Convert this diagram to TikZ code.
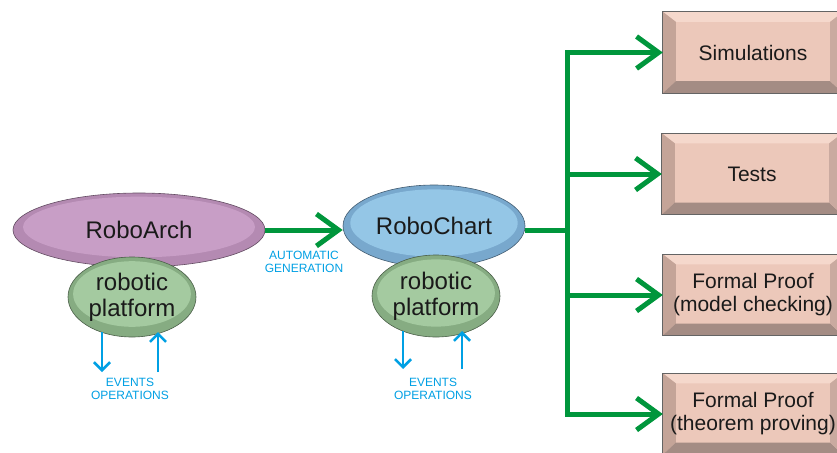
\documentclass[tikz,border=0pt]{standalone}
\usepackage{fontspec}
\setmainfont{Liberation Sans}
\usetikzlibrary{arrows.meta,calc,backgrounds,shapes.geometric}
\definecolor{txt}{RGB}{26,26,26}
\definecolor{grn}{RGB}{0,150,60}
\definecolor{cyanb}{RGB}{0,160,228}
\definecolor{archOut}{RGB}{180,138,178}
\definecolor{archIn}{RGB}{200,158,198}
\definecolor{chartOut}{RGB}{120,168,205}
\definecolor{chartIn}{RGB}{148,198,230}
\definecolor{platOut}{RGB}{134,172,130}
\definecolor{platIn}{RGB}{164,202,160}
\definecolor{bvface}{RGB}{236,200,186}
\definecolor{bvtop}{RGB}{245,216,204}
\definecolor{bvleft}{RGB}{196,164,152}
\definecolor{bvbottom}{RGB}{164,140,132}
\definecolor{bvright}{RGB}{202,170,160}
\definecolor{bvborder}{RGB}{100,100,100}
\tikzset{
  bevbox/.style={rectangle, minimum width=180pt, minimum height=81pt, inner sep=0pt,
    font=\fontsize{21}{23}\selectfont, text=txt, align=center},
  bell/.style n args={4}{ellipse, minimum width=#1, minimum height=#2, inner sep=0pt,
    fill=#3, draw=#3!55!black, line width=0.6pt, text=txt,
    path picture={\fill[#4] ($(path picture bounding box.center)+(0,-3)$) ellipse ({0.46*#1} and {0.41*#2});}},
  bigfont/.style={font=\fontsize{24}{26}\selectfont},
  garrow/.style={draw=grn, line width=5pt, -{Straight Barb[length=22pt,width=32pt]}},
  gline/.style={draw=grn, line width=5pt},
  barrow/.style={draw=cyanb, line width=2.6pt, -{Straight Barb[length=8pt,width=16pt]}},
  smalltxt/.style={text=cyanb, font=\fontsize{12}{13}\selectfont, align=center, inner sep=0pt},
}
\begin{document}
\begin{tikzpicture}[x=1pt,y=-1pt]
\useasboundingbox (0,0) rectangle (837,452);
\clip (0,0) rectangle (837,452);

% ellipses
\node[bell={252pt}{74pt}{archOut}{archIn}, bigfont] (arch) at (139,230) {RoboArch};
\node[bell={128pt}{80pt}{platOut}{platIn}, bigfont, align=center] (plat1) at (132,297) {robotic\\platform};
\node[bell={182pt}{82pt}{chartOut}{chartIn}, bigfont] (chart) at (434,226) {RoboChart};
\node[bell={128pt}{82pt}{platOut}{platIn}, bigfont, align=center] (plat2) at (436,296) {robotic\\platform};

% boxes
\node[bevbox] (sim) at (753,52.5) {Simulations};
\node[bevbox] (tests) at (752,174) {Tests};
\node[bevbox] (fp1) at (753,295) {Formal Proof\\(model checking)};
\node[bevbox] (fp2) at (753,414) {Formal Proof\\(theorem proving)};

\begin{pgfonlayer}{background}
\fill[white] (0,0) rectangle (837,452);
\foreach \n in {sim,tests,fp1,fp2}{
  \fill[bvface] (\n.north west) rectangle (\n.south east);
  \fill[bvtop] (\n.north west) -- (\n.north east) -- ($(\n.north east)+(-13,10)$) -- ($(\n.north west)+(13,10)$) -- cycle;
  \fill[bvleft] (\n.north west) -- ($(\n.north west)+(13,10)$) -- ($(\n.south west)+(13,-12)$) -- (\n.south west) -- cycle;
  \fill[bvbottom] (\n.south west) -- ($(\n.south west)+(13,-12)$) -- ($(\n.south east)+(-13,-12)$) -- (\n.south east) -- cycle;
  \fill[bvright] (\n.north east) -- (\n.south east) -- ($(\n.south east)+(-13,-12)$) -- ($(\n.north east)+(-13,10)$) -- cycle;
  \draw[bvborder, line width=0.8pt] (\n.north west) rectangle (\n.south east);
}
\end{pgfonlayer}

% automatic generation
\draw[garrow] (arch.east) -- (arch.east -| chart.west);
\node[smalltxt] (autogen) at (304,261.5) {AUTOMATIC\\GENERATION};

% tree
\coordinate (j) at (567,230);
\draw[gline] (chart.east |- j) -- (j);
\draw[garrow] (j) |- (sim.west);
\draw[garrow] (j) |- (tests.west);
\draw[garrow] (j) |- (fp1.west);
\draw[garrow] (j) |- (fp2.west);

% events / operations
\coordinate (l1a) at (102,332); \coordinate (l1b) at (102,372);
\coordinate (l2a) at (158,372); \coordinate (l2b) at (158,332);
\draw[barrow] (l1a) -- (l1b);
\draw[barrow] (l2a) -- (l2b);
\node[smalltxt] (ev1) at (130,388.5) {EVENTS\\OPERATIONS};

\coordinate (r1a) at (403,331); \coordinate (r1b) at (403,369);
\coordinate (r2a) at (462,369); \coordinate (r2b) at (462,331);
\draw[barrow] (r1a) -- (r1b);
\draw[barrow] (r2a) -- (r2b);
\node[smalltxt] (ev2) at (433,388.5) {EVENTS\\OPERATIONS};
\end{tikzpicture}
\end{document}
